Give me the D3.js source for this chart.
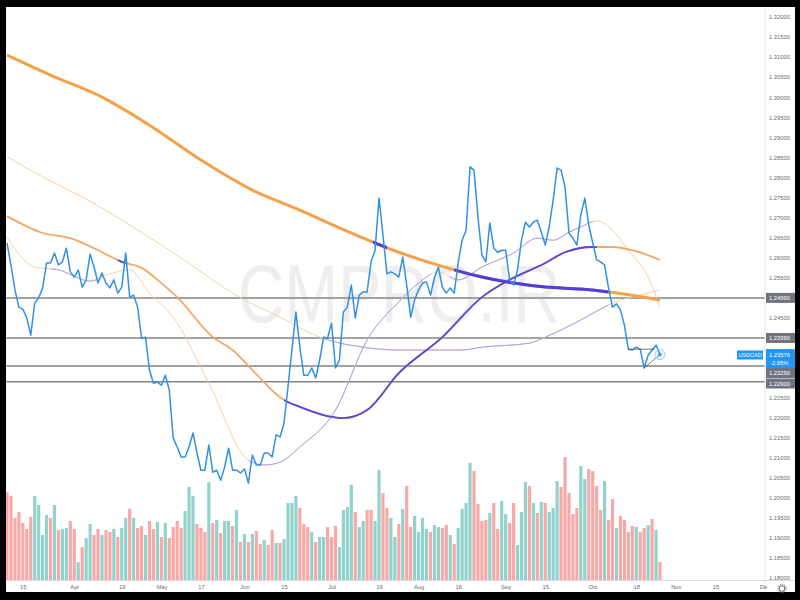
<!DOCTYPE html>
<html><head><meta charset="utf-8">
<script src="https://cdn.jsdelivr.net/npm/d3@7"></script>
<style>html,body{margin:0;padding:0;background:#000;}svg{display:block;}</style>
</head><body>
<svg id="c" width="800" height="600"></svg>
<script>
// ---- data (bar index: 0 = Mar 15, 2021; weekdays) ----
const startIndex = -4;
const closes = [1.2636,1.2581,1.2519,1.2476,
 1.2471,1.2449,1.2406,1.2486,1.2499,1.2524,1.2586,1.2586,1.2611,1.2581,
 1.2589,1.2623,1.2564,1.2551,1.2569,1.2526,1.2544,1.2608,1.2576,1.2536,
 1.2561,1.2536,1.2524,1.2544,1.2511,1.2526,1.2611,1.2501,1.2506,1.2476,
 1.2399,1.2401,1.2319,1.2286,1.2289,1.2281,1.2306,1.2269,1.2149,1.2127,
 1.2102,1.2102,1.2127,1.2162,1.2112,1.2069,1.2069,1.2132,1.2064,1.2069,
 1.2044,1.2077,1.2124,1.2069,1.2069,1.2062,1.2072,1.2037,1.2107,1.2082,
 1.2082,1.2112,1.2112,1.2102,1.2157,1.2152,1.2187,1.2277,1.2369,1.2464,
 1.2376,1.2306,1.2306,1.2324,1.2299,1.2344,1.2401,1.2399,1.2436,1.2324,
 1.2344,1.2464,1.2476,1.2531,1.2449,1.2506,1.2514,1.2514,1.2589,1.2618,
 1.2748,1.2656,1.2559,1.2564,1.2559,1.2551,1.2601,1.2531,1.2451,1.2494,
 1.2519,1.2536,1.2539,1.2506,1.2549,1.2576,1.2526,1.2511,1.2524,1.2511,
 1.2586,1.2643,1.2668,1.2826,1.2818,1.2701,1.2606,1.2589,1.2686,1.2623,
 1.2613,1.2618,1.2618,1.2544,1.2531,1.2569,1.2643,1.2688,1.2676,1.2688,
 1.2693,1.2663,1.2631,1.2676,1.2743,1.2823,1.2818,1.2776,1.2661,1.2648,
 1.2631,1.2706,1.2748,1.2681,1.2636,1.2594,1.2589,1.2581,1.2524,1.2476,
 1.2484,1.2469,1.2431,1.2371,1.2369,1.2376,1.2371,1.2324,1.2356,1.2369,
 1.2381,1.23576];
const volumes = [88,84,62,68,57,51,63,84,75,45,65,62,75,50,51,52,59,51,18,33,
 42,56,45,51,45,50,48,51,43,52,62,71,62,52,54,45,59,51,58,43,
 57,42,53,59,52,69,93,84,56,52,48,98,57,60,47,59,59,54,70,38,
 46,38,46,49,36,40,35,50,37,37,41,77,77,84,72,56,53,48,38,43,
 43,53,43,54,33,70,73,95,68,53,59,70,70,59,110,87,72,62,43,56,
 71,94,53,64,48,62,51,48,55,53,52,55,45,36,52,71,77,117,109,76,
 59,60,67,77,51,79,66,57,77,35,68,98,94,77,67,78,77,68,72,99,
 93,123,87,66,72,114,101,111,109,94,70,99,60,81,52,64,60,48,54,53,
 48,52,55,61,50,18];
const volumeDir = [
 "d","d","d","d","d","d","d","u","u","u",
 "u","d","u","d","u","u","d","d","u","d",
 "u","u","d","d","u","d","d","u","d","u",
 "u","d","u","d","d","u","d","d","u","d",
 "u","d","d","d","d","u","u","u","d","d",
 "d","u","d","u","d","u","u","d","u","d",
 "u","d","u","d","d","u","d","d","u","d",
 "u","u","u","u","d","d","d","u","d","u",
 "u","d","d","d","u","u","u","u","d","u",
 "u","d","d","u","u","d","d","u","u","d",
 "u","d","d","u","u","u","u","d","u","u",
 "d","d","u","d","u","u","u","u","d","d",
 "d","d","u","d","d","u","u","d","d","u",
 "u","u","d","u","d","u","d","u","u","u",
 "d","d","d","d","d","u","u","d","d","d",
 "d","u","d","d","u","d","d","d","d","u",
 "d","d","u","d","u","d"];
// moving averages: [bar index, value]
const ma200 = [[-4,1.3105],[7,1.3055],[20,1.3000],[32,1.2930],[45,1.2843],[58,1.2768],[70,1.2718],[83,1.2661],[95,1.2613],[109,1.2569],[116,1.2551],[124,1.2536],[132,1.2526],[141,1.2521],[148,1.2514],[161,1.2494]];
const ma100 = [[-4,1.2703],[5,1.2661],[12,1.2648],[18,1.2623],[25,1.2589],[30,1.2574],[35,1.2536],[39,1.2501],[48,1.2401],[53,1.2369],[58,1.2319],[66,1.2244],[70,1.2227],[78,1.2202],[81,1.2199],[87,1.2219],[95,1.2311],[106,1.2401],[116,1.2501],[122,1.2539],[132,1.2586],[137,1.2613],[144,1.2626],[149,1.2626],[154,1.2618],[161,1.2594]];
const ma50 = [[-4,1.2851],[5,1.2801],[15,1.2751],[37,1.2618],[56,1.2494],[65,1.2451],[75,1.2401],[86,1.2376],[95,1.2369],[111,1.2369],[116,1.2376],[128,1.2386],[132,1.2401],[141,1.2444],[149,1.2486],[158,1.2511],[161,1.2519]];
const ma20 = [[-4,1.2651],[3,1.2576],[9,1.2569],[17,1.2541],[22,1.2559],[27,1.2569],[32,1.2511],[38,1.2451],[47,1.2286],[57,1.2094],[61,1.2082],[65,1.2089],[70,1.2127],[79,1.2219],[87,1.2394],[95,1.2489],[100,1.2536],[105,1.2564],[110,1.2544],[116,1.2576],[124,1.2611],[130,1.2648],[134,1.2643],[138,1.2663],[141,1.2676],[145,1.2691],[149,1.2668],[153,1.2618],[158,1.2551],[161,1.2476]];
// index ranges where each average is drawn in its "price above" colour
const ma200Above = [[88.5,92],[109,148]];
const ma100Above = [[24,26],[66,145]];
const ma50Above = [[76,148]];
const ma20Above = [[7,19],[57,103],[108,144]];
const levels = [1.2499, 1.2399, 1.2329, 1.2290];
const levelLabels = ["1.24990","1.23990","1.23290","1.22900"];
const yTicks = [1.32,1.315,1.31,1.305,1.30,1.295,1.29,1.285,1.28,1.275,1.27,1.265,1.26,1.255,1.245,1.225,1.22,1.215,1.21,1.205,1.20,1.195,1.19,1.185,1.18];
const xTickIdx = [0,13,25,35,45,56,66,78,90,100,110,122,132,144,155,165,175,187];
const xTickLabels = ["15","Apr","19","May","17","Jun","15","Jul","19","Aug","16","Sep","15","Oct","18","Nov","15","De"];
const symbol = "USDCAD", lastText = "1.23576", changeText = "-2.95%";

// ---- drawing ----
const svg = d3.select("#c");
const L = 6, T = 7, R = 765, B = 580, W = 795, BOT = 592;
svg.append("rect").attr("width",800).attr("height",600).attr("fill","#000");
svg.append("rect").attr("x",L).attr("y",T).attr("width",W-L).attr("height",BOT-T).attr("fill","#fff");

const x = d3.scaleLinear().domain([-4,161]).range([7,660]);
const y = d3.scaleLinear().domain([1.18,1.32]).range([578,17]);
const yv = d3.scaleLinear().domain([0,130]).range([B,450]);
const font = "'Liberation Sans', Arial, sans-serif";

const defs = svg.append("defs");
defs.append("clipPath").attr("id","plot").append("rect").attr("x",L).attr("y",T).attr("width",R-L).attr("height",B-T);

// watermark
svg.append("text").attr("x",238).attr("y",322).attr("textLength",322).attr("lengthAdjust","spacingAndGlyphs")
  .attr("font-family",font).attr("font-size",82).attr("fill","#eeeeee").text("CMPRO.IR");

const plot = svg.append("g").attr("clip-path","url(#plot)");

// volume
plot.selectAll("rect.vol").data(volumes).join("rect").attr("class","vol")
  .attr("x",(d,k)=>x(startIndex+k)-1.6).attr("width",3.2)
  .attr("y",d=>yv(d)).attr("height",d=>B-yv(d))
  .attr("fill",(d,k)=>volumeDir[k]==="u"?"#92d2cc":"#f7a9a7");

// horizontal levels
plot.selectAll("line.lvl").data(levels).join("line").attr("class","lvl")
  .attr("x1",L).attr("x2",R).attr("y1",d=>y(d)).attr("y2",d=>y(d))
  .attr("stroke","#858585").attr("stroke-width",1.5);

// moving averages
const maLine = d3.line().x(d=>x(d[0])).y(d=>y(d[1])).curve(d3.curveMonotoneX);
let clipN = 0;
function drawMA(data, ranges, baseColor, aboveColor, width){
  plot.append("path").attr("d",maLine(data)).attr("fill","none").attr("stroke",baseColor).attr("stroke-width",width);
  ranges.forEach(r=>{
    const id = "mc"+(clipN++);
    defs.append("clipPath").attr("id",id).append("rect").attr("x",x(r[0])).attr("y",0).attr("width",x(r[1])-x(r[0])).attr("height",600);
    plot.append("path").attr("d",maLine(data)).attr("fill","none").attr("stroke",aboveColor).attr("stroke-width",width).attr("clip-path",`url(#${id})`);
  });
}
drawMA(ma50, ma50Above, "#f9cfab", "#ab9df0", 1);
drawMA(ma20, ma20Above, "#f9cfab", "#ab9df0", 1);
drawMA(ma100, ma100Above, "#f4a764", "#5a46dc", 1.8);
drawMA(ma200, ma200Above, "#f7a048", "#4c3ee0", 3);

// price
const pLine = d3.line().x((d,k)=>x(startIndex+k)).y(d=>y(d));
plot.append("path").attr("d",pLine(closes)).attr("fill","none").attr("stroke","#2f91e6").attr("stroke-width",1.5).attr("stroke-linejoin","round");

// small drawing at the end (triangle pattern)
const n = closes.length;
const iA = 153, iB = 159, iC = 157, iD = 161;
plot.append("line").attr("x1",x(iA)).attr("y1",y(closes[iA-startIndex])).attr("x2",x(iB)+2).attr("y2",y(closes[iA-startIndex])).attr("stroke","#555").attr("stroke-width",0.8);
plot.append("line").attr("x1",x(iC)).attr("y1",y(closes[iC-startIndex])).attr("x2",x(iD)).attr("y2",y(closes[n-1])).attr("stroke","#555").attr("stroke-width",0.8);
svg.append("circle").attr("cx",x(161)).attr("cy",y(closes[n-1])).attr("r",5).attr("fill","rgba(33,150,243,0.08)").attr("stroke","#9ccbf2").attr("stroke-width",1);
svg.append("circle").attr("cx",x(161)).attr("cy",y(closes[n-1])).attr("r",1.6).attr("fill","#2f91e6");

// axes frame
svg.append("line").attr("x1",R).attr("x2",R).attr("y1",T).attr("y2",BOT).attr("stroke","#e3e5ea");
svg.append("line").attr("x1",L).attr("x2",W).attr("y1",B+0.5).attr("y2",B+0.5).attr("stroke","#dcdde2");

// y axis
const yAxis = d3.axisRight(y).tickValues(yTicks).tickFormat(d3.format(".5f")).tickSize(0).tickPadding(4);
const ga = svg.append("g").attr("transform",`translate(${R},0)`).call(yAxis);
ga.select(".domain").remove();
ga.selectAll("text").attr("font-family",font).attr("font-size",5.8).attr("fill","#6a6a6a");

// x axis
const xAxis = d3.axisBottom(x).tickValues(xTickIdx).tickFormat((d,k)=>xTickLabels[k]).tickSize(0).tickPadding(5);
const gx = svg.append("g").attr("transform",`translate(0,${B})`).call(xAxis);
gx.select(".domain").remove();
gx.selectAll("text").attr("font-family",font).attr("font-size",5.8).attr("fill","#6a6a6a");

// level labels (boxes)
const boxY = [y(levels[0]), y(levels[1]), 373, 383.5];
levels.forEach((v,k)=>{
  svg.append("rect").attr("x",R+1).attr("y",boxY[k]-5).attr("width",W-R-1).attr("height",10).attr("fill","#707380");
  svg.append("text").attr("x",R+4).attr("y",boxY[k]+2).attr("font-family",font).attr("font-size",5.8).attr("fill","#fff").text(levelLabels[k]);
});
// last price box
svg.append("rect").attr("x",R+1).attr("y",349).attr("width",W-R-1).attr("height",19).attr("fill","#2196f3");
svg.append("text").attr("x",R+4).attr("y",356.5).attr("font-family",font).attr("font-size",5.8).attr("fill","#fff").text(lastText);
svg.append("text").attr("x",R+5).attr("y",364.5).attr("font-family",font).attr("font-size",5.8).attr("fill","#fff").text(changeText);
svg.append("rect").attr("x",737).attr("y",350.5).attr("width",26).attr("height",9).attr("fill","#2196f3");
svg.append("text").attr("x",750).attr("y",357).attr("text-anchor","middle").attr("font-family",font).attr("font-size",5.5).attr("fill","#fff").text(symbol);

// gear icon
svg.append("circle").attr("cx",782).attr("cy",588.5).attr("r",2.8).attr("fill","none").attr("stroke","#777").attr("stroke-width",1.1);
svg.append("circle").attr("cx",782).attr("cy",588.5).attr("r",4.2).attr("fill","none").attr("stroke","#777").attr("stroke-width",1).attr("stroke-dasharray","1.2 1.2");
</script>
</body></html>
